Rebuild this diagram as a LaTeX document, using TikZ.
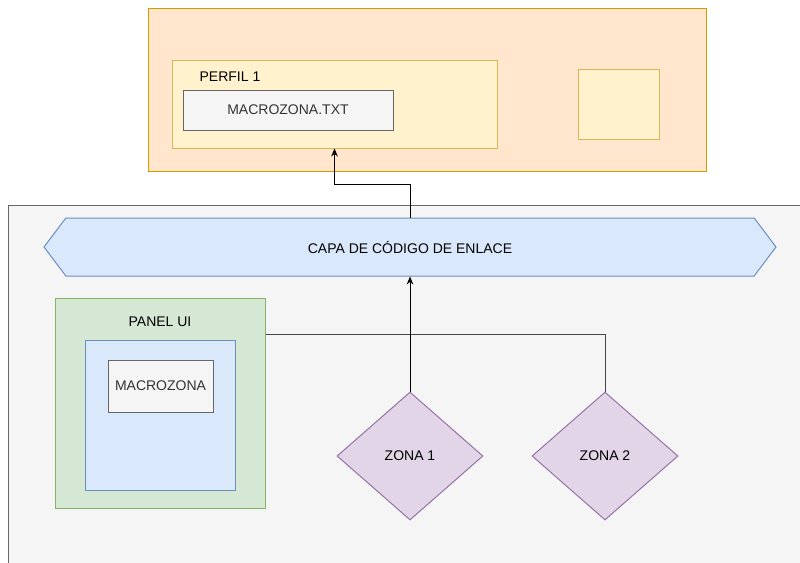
\documentclass[tikz,border=0pt]{standalone}
\usepackage{fontspec}
\setmainfont{Liberation Sans}
\usepackage{tikz}
\usetikzlibrary{shapes.geometric, shapes.symbols, arrows.meta}
\definecolor{orangefill}{HTML}{FFE6CC}
\definecolor{orangeline}{HTML}{D79B00}
\definecolor{yellowfill}{HTML}{FFF2CC}
\definecolor{yellowline}{HTML}{D6B656}
\definecolor{grayfill}{HTML}{F5F5F5}
\definecolor{grayline}{HTML}{666666}
\definecolor{bluefill}{HTML}{DAE8FC}
\definecolor{blueline}{HTML}{6C8EBF}
\definecolor{greenfill}{HTML}{D5E8D4}
\definecolor{greenline}{HTML}{82B366}
\definecolor{purplefill}{HTML}{E1D5E7}
\definecolor{purpleline}{HTML}{9673A6}
\definecolor{darktext}{HTML}{333333}
\tikzset{
	area/.style={rectangle, line width=0.75pt, inner sep=0pt},
	arrow/.style={line width=0.75pt, -{Stealth[length=6pt, width=5pt]}},
	link/.style={line width=0.75pt, grayline!70!black}
}

\begin{document}
\begin{tikzpicture}[
		x=0.75pt, y=-0.75pt,
		font=\fontsize{10.5pt}{12.5pt}\selectfont,
		storage/.style={area, draw=orangeline, fill=orangefill},
		profile/.style={area, draw=yellowline, fill=yellowfill},
		filebox/.style={area, draw=grayline, fill=grayfill, text=darktext},
		panelbox/.style={area, draw=greenline, fill=greenfill},
		viewbox/.style={area, draw=blueline, fill=bluefill},
		layer/.style={signal, signal to=west and east, signal pointer angle=106, draw=blueline, fill=bluefill, line width=0.75pt, inner sep=0pt, minimum width=549pt, minimum height=43.5pt},
		zone/.style={diamond, draw=purpleline, fill=purplefill, line width=0.75pt, inner sep=0pt, minimum width=109.5pt, minimum height=96pt}
		]
		\useasboundingbox (0,0) rectangle (800,562);
		
		% almacenamiento
		\node[storage, minimum width=418.5pt, minimum height=122.25pt] (store) at (427,89.5) {};
		\node[profile, minimum width=243.75pt, minimum height=66pt] (perfil) at (334.5,104) {};
		\node (perfillbl) at (230,77) {PERFIL 1};
		\node[filebox, minimum width=157.5pt, minimum height=30pt] (txt) at (288,110) {MACROZONA.TXT};
		\node[profile, minimum width=60.75pt, minimum height=52.5pt] (slot) at (618.5,104) {};
		
		% aplicacion
		\node[area, draw=grayline, fill=grayfill, minimum width=603pt, minimum height=277.5pt] (app) at (410,390) {};
		\node[layer] (capa) at (410,247) {CAPA DE CÓDIGO DE ENLACE};
		
		\node[panelbox, minimum width=157.5pt, minimum height=157.5pt] (panel) at (160,403) {};
		\node (panellbl) at (160,322) {PANEL UI};
		\node[viewbox, minimum width=112.5pt, minimum height=112.5pt] (view) at (160,415) {};
		\node[filebox, minimum width=78.75pt, minimum height=39pt] (macro) at (160.5,386) {MACROZONA};
		
		\node[zone] (zona1) at (410,456) {ZONA 1};
		\node[zone] (zona2) at (605,456) {ZONA 2};
		
		\draw[link] ([yshift=-27.75pt]panel.north east) -| (zona2.north);
		\draw[arrow] (zona1.north) -- (capa.south);
		\draw[arrow] (capa.north) -- ++(0,-33) -| (perfil.south);
		
	\end{tikzpicture}
\end{document}
